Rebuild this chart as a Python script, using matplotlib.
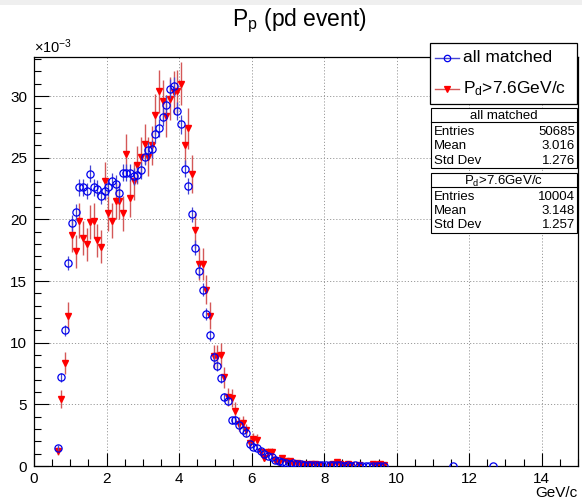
import numpy as np
import matplotlib
matplotlib.use("Agg")
import matplotlib.pyplot as plt
from matplotlib.lines import Line2D
from matplotlib.patches import Rectangle

plt.rcParams['font.family'] = ['Liberation Sans', 'DejaVu Sans']
plt.rcParams['mathtext.fontset'] = 'custom'
plt.rcParams['mathtext.rm'] = 'Liberation Sans'
plt.rcParams['mathtext.it'] = 'Liberation Sans:italic'

# P_p histograms, normalised to unit area, values in units of 1e-3
x_all = [0.65, 0.75, 0.85, 0.95, 1.05, 1.15, 1.25, 1.35, 1.45, 1.55,
         1.65, 1.75, 1.85, 1.95, 2.05, 2.15, 2.25, 2.35, 2.45, 2.55,
         2.65, 2.75, 2.85, 2.95, 3.05, 3.15, 3.25, 3.35, 3.45, 3.55,
         3.65, 3.75, 3.85, 3.95, 4.05, 4.15, 4.25, 4.35, 4.45, 4.55,
         4.65, 4.75, 4.85, 4.95, 5.05, 5.15, 5.25, 5.35, 5.45, 5.55,
         5.65, 5.75, 5.85, 5.95, 6.05, 6.15, 6.25, 6.35, 6.45, 6.55,
         6.65, 6.75, 6.85, 6.95, 7.05, 7.15, 7.25, 7.35, 7.45, 7.55,
         7.65, 7.75, 7.85, 7.95, 8.05, 8.15, 8.25, 8.35, 8.45, 8.55,
         8.65, 8.75, 8.85, 8.95, 9.05, 9.15, 9.25, 9.35, 9.45, 9.55,
         9.65, 11.55, 12.65]
y_all = [1.5, 7.2, 11.0, 16.5, 19.7, 20.6, 22.6, 22.6, 22.3, 23.7,
         22.6, 22.5, 21.9, 22.3, 22.6, 23.1, 22.9, 22.1, 23.8, 23.8,
         23.8, 23.5, 23.6, 24.0, 25.1, 25.6, 25.7, 26.9, 27.4, 28.3,
         29.3, 30.6, 30.8, 28.8, 27.7, 24.1, 22.7, 20.4, 17.7, 15.8,
         14.3, 12.3, 10.6, 8.8, 8.1, 7.1, 5.6, 5.3, 3.7, 3.75,
         3.3, 2.9, 2.7, 1.75, 1.57, 1.46, 1.24, 1.0, 0.78, 0.72,
         0.5, 0.43, 0.32, 0.27, 0.19, 0.22, 0.16, 0.14, 0.1, 0.11,
         0.09, 0.12, 0.07, 0.06, 0.05, 0.08, 0.06, 0.05, 0.07, 0.04,
         0.05, 0.04, 0.06, 0.04, 0.02, 0.02, 0.04, 0.04, 0.02, 0.04,
         0.02, 0.02, 0.02]

x_cut = [0.65, 0.75, 0.85, 0.95, 1.05, 1.15, 1.25, 1.35, 1.45, 1.55,
         1.65, 1.75, 1.85, 1.95, 2.05, 2.15, 2.25, 2.35, 2.45, 2.55,
         2.65, 2.75, 2.85, 2.95, 3.05, 3.15, 3.25, 3.35, 3.45, 3.55,
         3.65, 3.75, 3.85, 3.95, 4.05, 4.15, 4.25, 4.35, 4.45, 4.55,
         4.65, 4.75, 4.85, 4.95, 5.05, 5.15, 5.25, 5.35, 5.45, 5.55,
         5.65, 5.75, 5.85, 5.95, 6.05, 6.15, 6.25, 6.35, 6.45, 6.55,
         6.65, 6.75, 6.85, 6.95, 7.05, 7.15, 7.25, 7.35, 7.45, 7.55,
         7.65, 7.75, 7.85, 8.15, 8.25, 8.35, 8.45, 8.55, 8.65, 8.75,
         8.95, 9.35, 9.45, 9.55, 9.65]
y_cut = [1.24, 5.46, 8.35, 12.2, 18.7, 17.4, 19.9, 18.5, 18.0, 19.8,
         19.9, 18.3, 17.8, 23.1, 20.5, 19.9, 21.5, 21.5, 20.5, 25.3,
         21.7, 23.1, 24.4, 25.1, 26.1, 25.1, 26.0, 28.5, 30.4, 29.6,
         28.4, 29.8, 30.3, 30.4, 31.0, 26.0, 27.4, 23.7, 19.1, 16.4,
         16.4, 14.3, 12.2, 8.9, 8.9, 9.0, 7.2, 5.6, 5.5, 4.5,
         3.4, 3.5, 2.9, 1.9, 2.2, 2.1, 1.14, 0.62, 1.14, 1.1,
         0.49, 0.35, 0.62, 0.43, 0.43, 0.16, 0.27, 0.1, 0.2, 0.1,
         0.2, 0.2, 0.1, 0.1, 0.2, 0.3, 0.2, 0.1, 0.2, 0.1,
         0.1, 0.2, 0.1, 0.2, 0.1]

n_all = 50685
n_cut = 10004
stats_all = ["50685", "3.016", "1.276"]
stats_cut = ["10004", "3.148", "1.257"]

# poisson errors for a unit-area histogram (in 1e-3 units)
e_all = np.sqrt(np.array(y_all) * 1e3 / n_all)
e_cut = np.sqrt(np.array(y_cut) * 1e3 / n_cut)

W, H = 582, 503
def fx(px):
    return px / W
def fy(py):
    return 1 - py / H

fig = plt.figure(figsize=(W / 100, H / 100), dpi=100)
fig.patches.append(Rectangle((0, fy(5)), 1, 5 / H, transform=fig.transFigure,
                             facecolor='#efefef', edgecolor='none'))

ax = fig.add_axes([fx(34), fy(466), fx(578) - fx(34), fy(57) - fy(466)])
ax.set_xlim(0, 15)
ax.set_ylim(0, 33.17)

ax.errorbar(x_all, y_all, yerr=e_all, fmt='o', mfc='none', mec='#0000ee',
            ms=5.2, mew=0.9, ecolor='#4646d2', elinewidth=0.9, capsize=0, zorder=3)
ax.errorbar(x_cut, y_cut, yerr=e_cut, fmt='v', mfc='#ff0000', mec='#ff0000',
            ms=4.8, ecolor='#d45858', elinewidth=1.0, capsize=0, zorder=2)

ax.set_xticks(np.arange(0, 15, 2))
ax.set_xticks(np.arange(0, 15.01, 0.5), minor=True)
ax.set_yticks(np.arange(0, 31, 5))
ax.set_yticks(np.arange(0, 33.1, 1), minor=True)
ax.tick_params(which='both', direction='in', top=False, right=False,
               labelsize=11, width=0.8)
ax.tick_params(axis='x', which='major', length=9.5, pad=4)
ax.tick_params(axis='x', which='minor', length=4.7)
ax.tick_params(axis='y', which='major', length=10.5, pad=5)
ax.tick_params(axis='y', which='minor', length=5.2)
ax.grid(True, which='major', color='#9a9a9a', linestyle=(0, (1.2, 2)), linewidth=0.7)
for s in ax.spines.values():
    s.set_linewidth(0.9)

fig.text(0.515, fy(21), r'$\mathrm{P_{p}}$ (pd event)', ha='center', va='center', fontsize=16.5)
fig.text(fx(34), fy(47), r'$\times10^{-3}$', ha='left', va='center', fontsize=10.5)
fig.text(fx(577), fy(493), 'GeV/c', ha='right', va='center', fontsize=11)

# legend
fig.patches.append(Rectangle((fx(430), fy(104)), fx(577) - fx(430), (104 - 43) / H,
                             transform=fig.transFigure, facecolor='white',
                             edgecolor='black', linewidth=0.9, zorder=5))
leg_rows = [("all matched", 'o', 'none', '#0000ee', '#4646d2', 58),
            (r'$\mathrm{P_{d}}$>7.6GeV/c', 'v', '#ff0000', '#ff0000', '#d45858', 89)]
for label, mk, mfc, mec, lc, py in leg_rows:
    fig.lines.append(Line2D([fx(435), fx(459)], [fy(py), fy(py)], transform=fig.transFigure,
                            color=lc, lw=1.0, zorder=6))
    fig.lines.append(Line2D([fx(447)], [fy(py)], transform=fig.transFigure, marker=mk,
                            mfc=mfc, mec=mec, ms=4.6, mew=0.9, zorder=7))
    fig.text(fx(463), fy(py), label, ha='left', va='center', fontsize=12.5, zorder=7)

# stats boxes
def stats_box(top, title, vals):
    bottom = top + 60
    fig.patches.append(Rectangle((fx(431), fy(bottom)), fx(577) - fx(431), (bottom - top) / H,
                                 transform=fig.transFigure, facecolor='white',
                                 edgecolor='black', linewidth=0.8, zorder=5))
    fig.lines.append(Line2D([fx(431), fx(577)], [fy(top + 14), fy(top + 14)],
                            transform=fig.transFigure, color='black', lw=0.8, zorder=6))
    fig.text(fx(504), fy(top + 8), title, ha='center', va='center', fontsize=9.5, zorder=7)
    for i, name in enumerate(["Entries", "Mean", "Std Dev"]):
        py = top + 23.5 + i * 14.5
        fig.text(fx(434), fy(py), name, ha='left', va='center', fontsize=9.5, zorder=7)
        fig.text(fx(575), fy(py), vals[i], ha='right', va='center', fontsize=9.5, zorder=7)

stats_box(108, "all matched", stats_all)
stats_box(173, r'$\mathrm{P_{d}}$>7.6GeV/c', stats_cut)

fig.savefig("out.png", dpi=100)
